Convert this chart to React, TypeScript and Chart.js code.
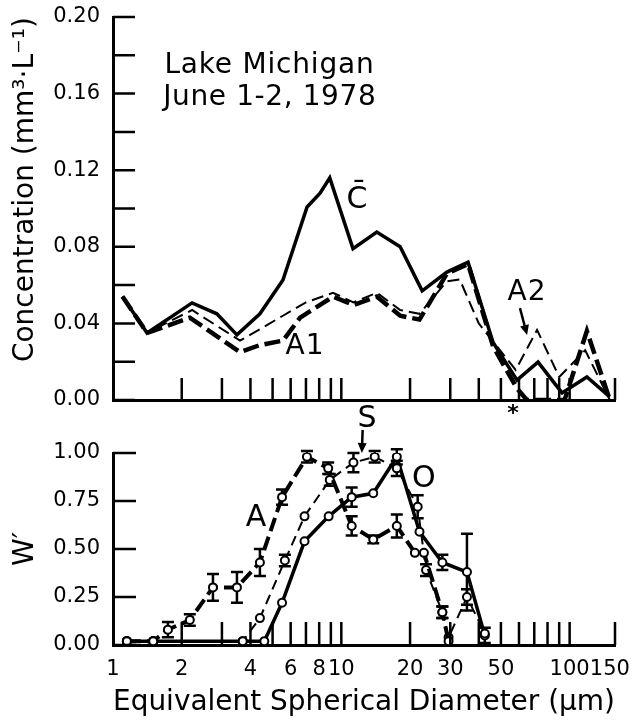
import React, { useEffect, useRef } from 'react';
import { Chart, registerables } from 'chart.js';
Chart.register(...registerables);

const FONT = 'DejaVu Sans';

// ---------- top panel: concentration ----------
const cDiam = [1.1, 1.41, 2.22, 2.85, 3.49, 4.4, 5.55, 7.08, 8.07, 8.9, 11.25, 14.3, 18.1, 22.6, 29.0, 35.9, 46.2, 58.8, 72.7, 92.6, 119, 150];
const cConc = [0.054, 0.035, 0.0507, 0.045, 0.034, 0.045, 0.0627, 0.1008, 0.108, 0.116, 0.079, 0.0877, 0.080, 0.057, 0.0668, 0.072, 0.030, 0.0104, 0.0198, 0.0037, 0.012, 0.0016];

const a1Diam = [1.1, 1.41, 2.17, 3.6, 4.4, 5.55, 6.6, 9.2, 11.3, 14.3, 18.1, 22, 29, 35.9, 46.2, 58.8, 65, 95, 119, 150];
const a1Conc = [0.054, 0.035, 0.043, 0.025, 0.0287, 0.031, 0.043, 0.054, 0.0496, 0.054, 0.044, 0.042, 0.066, 0.071, 0.028, 0.006, 0.0, 0.0, 0.036, 0.0];

const a2Diam = [1.1, 1.41, 2.22, 3.6, 4.4, 5.55, 7.0, 9.2, 11.3, 14.3, 18.1, 22, 29, 33, 40, 58, 72, 90, 117, 150];
const a2Conc = [0.054, 0.035, 0.047, 0.031, 0.037, 0.044, 0.051, 0.056, 0.051, 0.056, 0.047, 0.045, 0.062, 0.063, 0.040, 0.0157, 0.0366, 0.012, 0.026, 0.0];

// ---------- bottom panel: W' ----------
const aDiam = [1.15, 1.5, 1.74, 2.17, 2.74, 3.49, 4.4, 5.5, 7.07, 8.76, 11.1, 13.8, 17.5, 21, 23, 27.7, 29.5];
const aW = [0.02, 0.02, 0.08, 0.13, 0.30, 0.30, 0.43, 0.77, 0.98, 0.92, 0.62, 0.55, 0.62, 0.48, 0.48, 0.17, 0.02];
const aErr = [0, 0, 0.04, 0.03, 0.07, 0.08, 0.07, 0.04, 0.03, 0.03, 0.05, 0.02, 0.06, 0, 0, 0.03, 0];

const sDiam = [1.15, 1.5, 3.7, 4.4, 5.66, 6.9, 8.9, 11.3, 14, 17.5, 21.6, 23.5, 27.7, 29.5, 35.5, 42.5];
const sW = [0.02, 0.02, 0.02, 0.14, 0.44, 0.67, 0.86, 0.95, 0.98, 0.92, 0.72, 0.39, 0.17, 0.04, 0.25, 0.06];
const sErr = [0, 0, 0, 0, 0.03, 0, 0.03, 0.05, 0.03, 0.04, 0.06, 0.03, 0.03, 0, 0.04, 0];

const oDiam = [1.15, 1.5, 3.7, 4.6, 5.5, 6.9, 8.8, 11.1, 13.8, 17.5, 22, 27.7, 35.5, 42.5];
const oW = [0.02, 0.02, 0.02, 0.02, 0.22, 0.54, 0.67, 0.77, 0.79, 0.98, 0.59, 0.43, 0.38, 0.05];
const oErr = [0, 0, 0, 0, 0, 0, 0, 0.05, 0, 0.04, 0, 0.04, 0.2, 0.04];

// ---------- axes ----------
const xMin = 1;
const xMax = 158;
const xLabelValues = [1, 2, 4, 6, 8, 10, 20, 30, 50, 100, 150];
const xTickMarks = [2, 3, 4, 5, 6, 7, 8, 9, 10, 20, 30, 40, 50, 60, 70, 80, 90, 100, 158];
const topYLabels = [0, 0.04, 0.08, 0.12, 0.16, 0.2];
const topYMarks = [0, 0.02, 0.04, 0.06, 0.08, 0.1, 0.12, 0.14, 0.16, 0.18, 0.2];
const bottomYLabels = [0, 0.25, 0.5, 0.75, 1.0];

const toPts = (xs: number[], ys: number[]) => xs.map((x, i) => ({ x, y: ys[i] }));

const zeroPad = (s: any) => {
  s.paddingTop = 0; s.paddingBottom = 0; s.paddingLeft = 0; s.paddingRight = 0;
};

function makeInnerTicks(xv: number[], yv: number[], len: number) {
  return {
    id: 'innerTicks',
    afterDraw(chart: any) {
      const { ctx, chartArea } = chart;
      const xs = chart.scales.x;
      const ys = chart.scales.y;
      ctx.save();
      ctx.strokeStyle = '#000';
      ctx.lineWidth = 2.5;
      ctx.beginPath();
      for (const v of yv) {
        const py = ys.getPixelForValue(v);
        ctx.moveTo(chartArea.left, py);
        ctx.lineTo(chartArea.left + len, py);
      }
      for (const v of xv) {
        const px = xs.getPixelForValue(v);
        ctx.moveTo(px, chartArea.bottom);
        ctx.lineTo(px, chartArea.bottom - len);
      }
      ctx.stroke();
      ctx.restore();
    },
  };
}

const errorBars = {
  id: 'errorBars',
  beforeDatasetsDraw(chart: any) {
    const { ctx } = chart;
    const ys = chart.scales.y;
    ctx.save();
    ctx.strokeStyle = '#000';
    ctx.lineWidth = 2.5;
    chart.data.datasets.forEach((ds: any, i: number) => {
      if (!ds.errors) return;
      const meta = chart.getDatasetMeta(i);
      ds.errors.forEach((e: number, j: number) => {
        if (!e) return;
        const el = meta.data[j];
        const v = ds.data[j].y;
        const y1 = ys.getPixelForValue(v + e);
        const y2 = ys.getPixelForValue(Math.max(v - e, 0));
        ctx.beginPath();
        ctx.moveTo(el.x, y1);
        ctx.lineTo(el.x, y2);
        ctx.moveTo(el.x - 6, y1);
        ctx.lineTo(el.x + 6, y1);
        ctx.moveTo(el.x - 6, y2);
        ctx.lineTo(el.x + 6, y2);
        ctx.stroke();
      });
    });
    ctx.restore();
  },
};

type Note = { text: string; x: number; y: number; size: number; align?: string; baseline?: string; weight?: string; spacing?: number };
type Arrow = { x1: number; y1: number; x2: number; y2: number };

function makeNotes(notes: Note[], arrows: Arrow[]) {
  return {
    id: 'notes',
    afterDraw(chart: any) {
      const { ctx } = chart;
      const xs = chart.scales.x;
      const ys = chart.scales.y;
      ctx.save();
      ctx.fillStyle = '#000';
      ctx.strokeStyle = '#000';
      for (const n of notes) {
        ctx.font = `${n.weight || 'normal'} ${n.size}px "${FONT}"`;
        ctx.textAlign = n.align || 'center';
        ctx.textBaseline = n.baseline || 'middle';
        (ctx as any).letterSpacing = `${n.spacing || 0}px`;
        ctx.fillText(n.text, xs.getPixelForValue(n.x), ys.getPixelForValue(n.y));
      }
      (ctx as any).letterSpacing = '0px';
      for (const a of arrows) {
        const x1 = xs.getPixelForValue(a.x1);
        const y1 = ys.getPixelForValue(a.y1);
        const x2 = xs.getPixelForValue(a.x2);
        const y2 = ys.getPixelForValue(a.y2);
        const ang = Math.atan2(y2 - y1, x2 - x1);
        ctx.lineWidth = 2.5;
        ctx.beginPath();
        ctx.moveTo(x1, y1);
        ctx.lineTo(x2 - 6 * Math.cos(ang), y2 - 6 * Math.sin(ang));
        ctx.stroke();
        ctx.beginPath();
        ctx.moveTo(x2, y2);
        ctx.lineTo(x2 - 10 * Math.cos(ang) + 4.5 * Math.sin(ang), y2 - 10 * Math.sin(ang) - 4.5 * Math.cos(ang));
        ctx.lineTo(x2 - 10 * Math.cos(ang) - 4.5 * Math.sin(ang), y2 - 10 * Math.sin(ang) + 4.5 * Math.cos(ang));
        ctx.closePath();
        ctx.fill();
      }
      ctx.restore();
    },
  };
}

const topNotes: Note[] = [
  { text: 'Lake Michigan', x: 1.68, y: 0.1708, size: 28, align: 'left', baseline: 'alphabetic', spacing: 0.8 },
  { text: 'June 1-2, 1978', x: 1.66, y: 0.154, size: 28, align: 'left', baseline: 'alphabetic', spacing: 0.6 },
  { text: 'C\u0304', x: 11.7, y: 0.1044, size: 30 },
  { text: 'A1', x: 6.93, y: 0.0277, size: 28, spacing: 1 },
  { text: 'A2', x: 65.1, y: 0.0559, size: 28, spacing: 1 },
  { text: '*', x: 56.5, y: -0.0075, size: 22, weight: 'bold' },
];
const topArrows: Arrow[] = [{ x1: 60.6, y1: 0.048, x2: 65.1, y2: 0.0339 }];

const bottomNotes: Note[] = [
  { text: 'A', x: 4.23, y: 0.661, size: 30 },
  { text: 'S', x: 12.96, y: 1.177, size: 30 },
  { text: 'O', x: 23.0, y: 0.865, size: 30 },
];
const bottomArrows: Arrow[] = [{ x1: 12.4, y1: 1.12, x2: 12.3, y2: 1.0 }];

const lineBase = { pointRadius: 0, tension: 0, fill: false, borderColor: '#000', borderCapStyle: 'butt' };
const markerBase = {
  tension: 0, fill: false, borderColor: '#000', pointRadius: 4, pointBorderWidth: 2,
  pointBackgroundColor: '#fff', pointBorderColor: '#000',
};

function yAxis(min: number, max: number, labels: number[], title: string, align: string) {
  return {
    min, max,
    afterBuildTicks: (s: any) => { s.ticks = labels.map((v) => ({ value: v })); },
    ticks: { callback: (v: number) => v.toFixed(2), font: { size: 21, family: FONT }, color: '#000', padding: 13 },
    grid: { drawOnChartArea: false, drawTicks: false },
    border: { display: true, color: '#000', width: 3 },
    title: { display: true, text: title, font: { size: 28, family: FONT }, color: '#000', align, padding: { top: 9, bottom: 0 } },
    afterFit: (s: any) => { s.width = 113; zeroPad(s); },
  };
}

export default function App() {
  const topRef = useRef<HTMLCanvasElement>(null);
  const botRef = useRef<HTMLCanvasElement>(null);

  useEffect(() => {
    Chart.defaults.font.family = FONT;
    Chart.defaults.color = '#000';

    const top = new Chart(topRef.current!, {
      type: 'line',
      data: {
        datasets: [
          { ...lineBase, label: 'C', data: toPts(cDiam, cConc), borderWidth: 3.5 },
          { ...lineBase, label: 'A1', data: toPts(a1Diam, a1Conc), borderWidth: 4.5, borderDash: [16, 6] },
          { ...lineBase, label: 'A2', data: toPts(a2Diam, a2Conc), borderWidth: 2, borderDash: [12, 6] },
        ] as any,
      },
      options: {
        animation: false,
        responsive: false,
        layout: { padding: { top: 17, left: 0, right: 19, bottom: 320 } },
        plugins: { legend: { display: false }, tooltip: { enabled: false } },
        scales: {
          x: {
            type: 'logarithmic', min: xMin, max: xMax,
            ticks: { display: false },
            grid: { drawOnChartArea: false, drawTicks: false },
            border: { color: '#000', width: 3 },
            afterFit: (s: any) => { s.height = 0; zeroPad(s); },
          },
          y: yAxis(0, 0.2, topYLabels, 'Concentration (mm³·L⁻¹)', 'end'),
        },
      } as any,
      plugins: [makeInnerTicks(xTickMarks, topYMarks, 22), makeNotes(topNotes, topArrows)],
    });

    const bottom = new Chart(botRef.current!, {
      type: 'line',
      data: {
        datasets: [
          { ...markerBase, label: 'A', data: toPts(aDiam, aW), errors: aErr, borderWidth: 4, borderDash: [14, 6] },
          { ...markerBase, label: 'S', data: toPts(sDiam, sW), errors: sErr, borderWidth: 2, borderDash: [10, 6] },
          { ...markerBase, label: 'O', data: toPts(oDiam, oW), errors: oErr, borderWidth: 3.5 },
        ] as any,
      },
      options: {
        animation: false,
        responsive: false,
        layout: { padding: { top: 453, left: 0, right: 19, bottom: 0 } },
        plugins: { legend: { display: false }, tooltip: { enabled: false } },
        scales: {
          x: {
            type: 'logarithmic', min: xMin, max: xMax,
            afterBuildTicks: (s: any) => { s.ticks = xLabelValues.map((v) => ({ value: v })); },
            ticks: { callback: (v: number) => String(v), font: { size: 21, family: FONT }, color: '#000', padding: 12, maxRotation: 0, autoSkip: false },
            grid: { drawOnChartArea: false, drawTicks: false },
            border: { color: '#000', width: 3 },
            title: { display: true, text: 'Equivalent Spherical Diameter (μm)', font: { size: 29, family: FONT }, color: '#000', padding: { top: 0, bottom: 0 } },
            afterFit: (s: any) => { s.height = 75; zeroPad(s); },
          },
          y: yAxis(0, 1.0, bottomYLabels, 'W′', 'center'),
        },
      } as any,
      plugins: [errorBars, makeInnerTicks(xTickMarks, bottomYLabels, 23), makeNotes(bottomNotes, bottomArrows)],
    });

    return () => { top.destroy(); bottom.destroy(); };
  }, []);

  const cs: React.CSSProperties = { position: 'absolute', left: 0, top: 0 };
  return (
    <div style={{ position: 'absolute', left: 0, top: 0, width: 634, height: 720, background: '#fff' }}>
      <canvas ref={topRef} width={634} height={720} style={cs} />
      <canvas ref={botRef} width={634} height={720} style={cs} />
    </div>
  );
}
